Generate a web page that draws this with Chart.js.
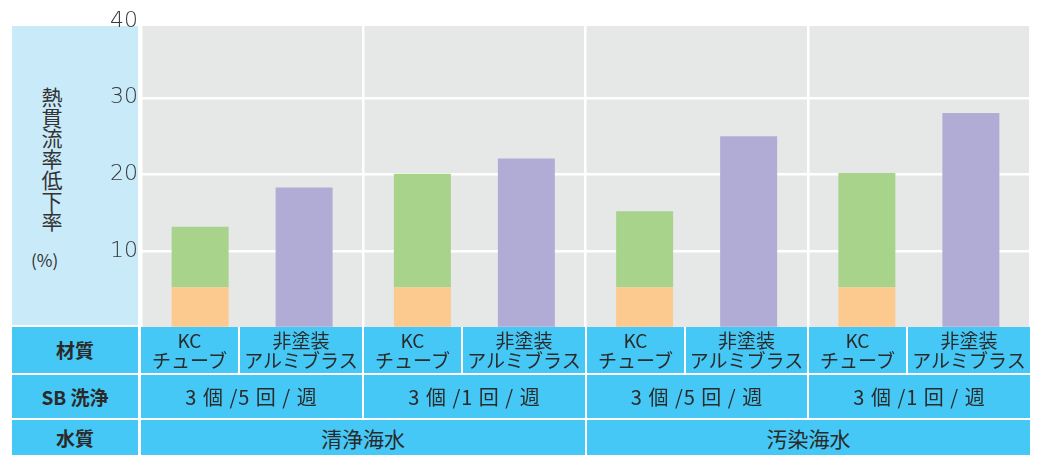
<!DOCTYPE html>
<html>
<head>
<meta charset="utf-8">
<script src="https://cdn.jsdelivr.net/npm/chart.js@4"></script>
<style>
  body { margin: 0; background: #fff; font-family: "Noto Sans CJK JP", sans-serif; }
  #wrap { position: relative; width: 1038px; height: 455px; overflow: hidden; }
  #panel { position: absolute; left: 12px; top: 26px; width: 126px; height: 299px; background: #c8eaf9; }
  #ytitle { position: absolute; left: 41px; top: 86px; width: 22px; font-size: 21px; line-height: 20.7px; color: #333; text-align: center; }
  #yunit { position: absolute; left: 31px; top: 247px; font-size: 17px; color: #333; }
  #cv { position: absolute; left: 0; top: 0; }
  .cell { position: absolute; background: #45c8f5; display: flex; align-items: center; justify-content: center;
          text-align: center; font-size: 20px; line-height: 20px; color: #2a2a2a; white-space: pre; }
  .hd { font-weight: bold; font-size: 19px; }
  .mat { font-size: 19px; }
  .cln { letter-spacing: 1px; }
  .wat { font-size: 21px; }
</style>
</head>
<body>
<div id="wrap">
  <div id="panel"></div>
  <div id="ytitle">熱貫流率低下率</div>
  <div id="yunit">(%)</div>
  <canvas id="cv" width="1038" height="330"></canvas>
</div>
<script>
// data
const groups = ['清浄海水 3個/5回/週', '清浄海水 3個/1回/週', '汚染海水 3個/5回/週', '汚染海水 3個/1回/週'];
const kcBase = [5.3, 5.3, 5.3, 5.3];      // orange part of KC tube
const kcUpper = [7.9, 14.8, 9.9, 14.9];   // green part on top
const alumBrass = [18.3, 22.1, 25.0, 28.0];
const yTicks = [0, 10, 20, 30, 40];

// table texts
const rowHeads = ['材質', 'SB 洗浄', '水質'];
const materials = ['KC\nチューブ', '非塗装\nアルミブラス'];
const cleaning = ['3 個 /5 回 / 週', '3 個 /1 回 / 週', '3 個 /5 回 / 週', '3 個 /1 回 / 週'];
const water = ['清浄海水', '汚染海水'];

const bgPlugin = {
  id: 'greyBg',
  beforeDraw(chart) {
    const { ctx, chartArea: a } = chart;
    ctx.save();
    ctx.fillStyle = '#e6e8e8';
    ctx.fillRect(a.left, a.top + 5, a.right - a.left, a.bottom - a.top - 5);
    ctx.restore();
  }
};

const chart = new Chart(document.getElementById('cv'), {
  type: 'bar',
  plugins: [bgPlugin],
  data: {
    labels: groups,
    datasets: [
      { label: 'KC base', data: kcBase, stack: 'kc', backgroundColor: '#fcc98f' },
      { label: 'KC', data: kcUpper, stack: 'kc', backgroundColor: '#a8d38a' },
      { label: '非塗装アルミブラス', data: alumBrass, stack: 'al', backgroundColor: '#b1acd6' }
    ]
  },
  options: {
    responsive: false,
    animation: false,
    categoryPercentage: 0.936,
    barPercentage: 0.548,
    layout: { padding: { top: 21, right: 8, bottom: 2, left: 0 } },
    plugins: { legend: { display: false }, tooltip: { enabled: false } },
    scales: {
      x: {
        stacked: true,
        grid: { color: '#ffffff', lineWidth: 2.5, offset: true, drawTicks: false },
        border: { display: false },
        ticks: { display: false },
        afterFit: s => { s.height = 0; }
      },
      y: {
        stacked: true,
        min: yTicks[0],
        max: yTicks[yTicks.length - 1],
        afterBuildTicks: s => { s.ticks = yTicks.map(v => ({ value: v })); },
        afterFit: s => { s.width = 141; s.paddingTop = 0; s.paddingBottom = 0; },
        grid: { color: '#ffffff', lineWidth: 2.5, drawTicks: false },
        border: { display: false },
        ticks: {
          padding: 3,
          color: '#3a3a3a',
          font: { family: '"DejaVu Sans", sans-serif', size: 22, weight: 200 },
          callback: v => v === 0 ? '' : v
        }
      }
    }
  }
});

// table under the chart, columns follow the category scale
const wrap = document.getElementById('wrap');
const xs = chart.scales.x;
const step = (xs.right - xs.left) / groups.length;
const rows = [[327, 373], [375, 418], [420, 455]];

function cell(text, x0, x1, r, cls) {
  const d = document.createElement('div');
  d.className = 'cell' + (cls ? ' ' + cls : '');
  d.style.left = x0 + 'px';
  d.style.width = (x1 - x0) + 'px';
  d.style.top = rows[r][0] + 'px';
  d.style.height = (rows[r][1] - rows[r][0]) + 'px';
  d.textContent = text;
  wrap.appendChild(d);
}

rowHeads.forEach((h, r) => cell(h, 12, 138, r, 'hd'));
groups.forEach((g, i) => {
  const gl = Math.round(xs.left + i * step) + (i ? 1 : 0);
  const gr = Math.round(xs.left + (i + 1) * step) - (i < groups.length - 1 ? 1 : 0);
  cell(materials[0], gl, gl + 97, 0, 'mat');
  cell(materials[1], gl + 99, gr, 0, 'mat');
  cell(cleaning[i], gl, gr, 1, 'cln');
});
water.forEach((w, j) => {
  const gl = Math.round(xs.left + j * 2 * step) + (j ? 1 : 0);
  const gr = Math.round(xs.left + (j + 1) * 2 * step) - (j ? 0 : 1);
  cell(w, gl, gr, 2, 'wat');
});
</script>
</body>
</html>
